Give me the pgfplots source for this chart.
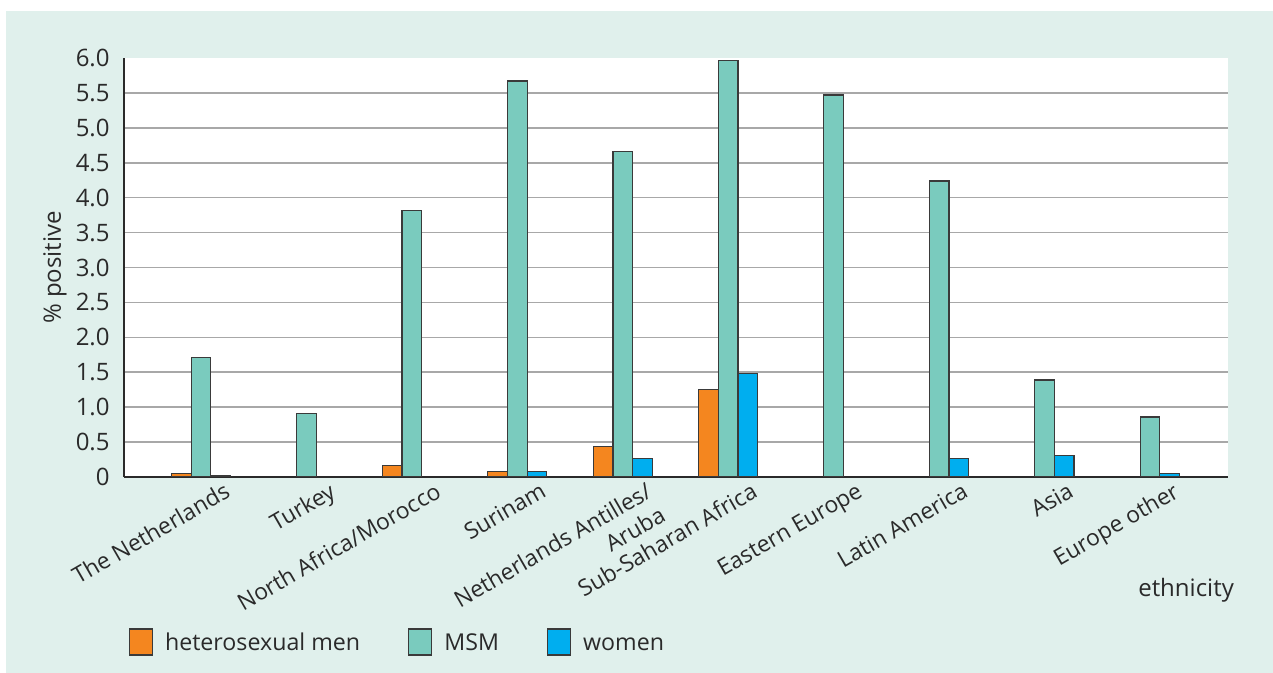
\documentclass[border=0pt]{standalone}
\usepackage{pgfplots}
\pgfplotsset{compat=1.18}
\usetikzlibrary{calc}
\usepackage{fontspec}
\setmainfont{Open Sans}

\definecolor{panel}{HTML}{E0F0EC}
\definecolor{hetero}{HTML}{F4861F}
\definecolor{msm}{HTML}{7ACBBE}
\definecolor{women}{HTML}{00AEEF}
\definecolor{ink}{HTML}{2A2A2A}
\definecolor{gridgray}{HTML}{A8A8A8}
\definecolor{barline}{HTML}{3A3A3A}

\pgfdeclarelayer{background}
\pgfsetlayers{background,main}

\newcommand{\ylblfont}{\fontsize{12}{14.5}\selectfont}
\newcommand{\xlblfont}{\fontsize{11.4}{13.8}\selectfont}
\newcommand{\legfont}{\fontsize{11.6}{14}\selectfont}

\begin{document}
\begin{tikzpicture}
\begin{axis}[
  name=ax, at={(0pt,0pt)}, anchor=south west,
  scale only axis, width=552pt, height=209.5pt,
  xmin=-0.73, xmax=9.74, ymin=0, ymax=6,
  axis lines=left, axis line style={-, draw=ink, line width=0.8pt},
  axis background/.style={fill=white},
  ybar, bar width=9.85pt,
  ytick={0,0.5,1,1.5,2,2.5,3,3.5,4,4.5,5,5.5},
  yticklabels={0,0.5,1.0,1.5,2.0,2.5,3.0,3.5,4.0,4.5,5.0,5.5},
  extra y ticks={6}, extra y tick labels={6.0},
  extra y tick style={grid=none},
  ymajorgrids, grid style={gridgray, line width=0.8pt},
  major tick length=0pt,
  yticklabel style={font=\ylblfont, text=ink, inner sep=0pt, xshift=-7pt},
  xtick={0,...,9},
  xticklabels={The Netherlands, Turkey, North Africa/Morocco, Surinam,
    {Netherlands Antilles/\\Aruba}, Sub-Saharan Africa, Eastern Europe,
    Latin America, Asia, Europe other},
  xticklabel style={font=\xlblfont, text=ink, align=right, inner sep=0pt,
    xshift=11pt, yshift=-2pt, rotate=30, anchor=north east},
  ylabel={\% positive},
  every axis y label/.style={at={(axis description cs:-0.0625,0.5)},
    rotate=90, anchor=center, font=\ylblfont, text=ink},
  xlabel={ethnicity},
  every axis x label/.style={at={(axis description cs:0.962,-0.27)},
    anchor=center, font=\ylblfont, text=ink},
  legend columns=3,
  legend style={at={(axis description cs:0.004,-0.394)}, anchor=west,
    draw=none, fill=none, font=\legfont, text=ink, inner sep=0pt,
    /tikz/every odd column/.append style={column sep=4pt},
    /tikz/every even column/.append style={column sep=22pt}},
  legend image code/.code={%
    \draw[#1,/tikz/.cd,line width=0.6pt] (0pt,-6.5pt) rectangle (11.5pt,6.5pt);},
]
\addplot[fill=hetero, draw=barline, line width=0.6pt, bar shift=-9.85pt]
  coordinates {(0,0.05) (2,0.17) (3,0.08) (4,0.44) (5,1.25)};
\addplot[fill=msm, draw=barline, line width=0.6pt, bar shift=0pt]
  coordinates {(0,1.71) (1,0.91) (2,3.82) (3,5.67) (4,4.66) (5,5.97)
               (6,5.47) (7,4.24) (8,1.39) (9,0.86)};
\addplot[fill=women, draw=barline, line width=0.6pt, bar shift=9.85pt]
  coordinates {(0,0.02) (3,0.08) (4,0.26) (5,1.48) (7,0.26) (8,0.31) (9,0.05)};
\legend{\strut heterosexual men, \strut MSM, \strut women}
\end{axis}
% page and tinted panel behind the axis
\begin{pgfonlayer}{background}
\coordinate (pg) at ($(ax.south west)+(-62pt,-98pt)$);
\fill[white] (pg) rectangle +(636.5pt,336.5pt);
\fill[panel] ($(pg)+(3pt,0pt)$) rectangle +(633.5pt,331pt);
\end{pgfonlayer}
\end{tikzpicture}
\end{document}
